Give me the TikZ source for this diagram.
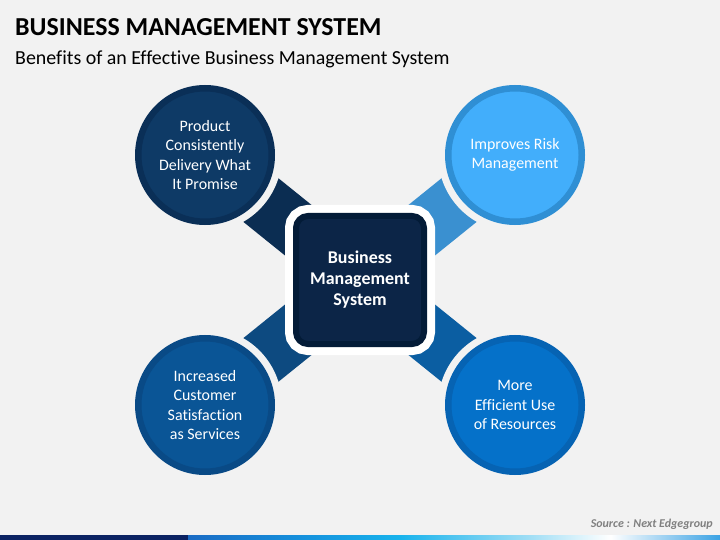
\documentclass[tikz,border=0pt]{standalone}
\usepackage{fontspec}
\setmainfont{Carlito}[Ligatures=NoCommon]
\usetikzlibrary{backgrounds}
\definecolor{bgc}{HTML}{F2F2F2}
\definecolor{tlfill}{HTML}{0E3A66}
\definecolor{tlring}{HTML}{0A2F57}
\definecolor{tlconn}{HTML}{0B2D52}
\definecolor{trfill}{HTML}{42AEFB}
\definecolor{trring}{HTML}{2F8FD4}
\definecolor{trconn}{HTML}{3A90D0}
\definecolor{blfill}{HTML}{0A5596}
\definecolor{blring}{HTML}{094A86}
\definecolor{blconn}{HTML}{0D4A80}
\definecolor{brfill}{HTML}{0571C9}
\definecolor{brring}{HTML}{0663B3}
\definecolor{brconn}{HTML}{0B5EA2}
\definecolor{sqfill}{HTML}{0C2547}
\definecolor{sqring}{HTML}{031B37}
\definecolor{srcgray}{HTML}{808080}
\definecolor{barnavy}{HTML}{0B2262}
\definecolor{barA}{HTML}{1A6BC4}
\definecolor{barB}{HTML}{1590DC}
\definecolor{barC}{HTML}{18B3EC}
\definecolor{barD}{HTML}{A0DEF5}
\definecolor{barE}{HTML}{3AA2E4}
\pgfdeclarehorizontalshading{barshade}{100bp}{color(0bp)=(barA);color(25bp)=(barA);color(35.5bp)=(barB);color(44.9bp)=(barC);color(57.1bp)=(barD);color(64.7bp)=(white);color(75bp)=(barE);color(100bp)=(barE)}
\tikzset{
  bubble/.style n args={2}{circle, minimum size=133.5bp, inner sep=0pt,
     fill=#1, draw=#2, line width=6.5bp,
     preaction={draw=bgc, line width=20.5bp},
     text=white, align=center, font=\fontsize{16}{19.4}\selectfont},
  hub/.style={rectangle, rounded corners=12bp, minimum size=128bp, inner sep=0pt,
     fill=sqfill, draw=sqring, line width=6bp,
     preaction={draw=white, line width=22bp},
     text=white, align=center, font=\bfseries\fontsize{18}{21}\selectfont},
  link/.style={line width=56bp, line cap=butt, draw=#1}
}
\begin{document}
\begin{tikzpicture}[x=1bp,y=-1bp]
\useasboundingbox (0,0) rectangle (720,540);
\node[hub] (sq) at (360,280) {Business\\Management\\System};
\node[bubble={tlfill}{tlring}] (tl) at (205,155) {Product\\Consistently\\Delivery What\\It Promise};
\node[bubble={trfill}{trring}] (tr) at (515,155) {Improves Risk\\Management};
\node[bubble={blfill}{blring}] (bl) at (205,405) {Increased\\Customer\\Satisfaction\\as Services};
\node[bubble={brfill}{brring}] (br) at (515,405) {More\\Efficient Use\\of Resources};
\begin{scope}[on background layer]
  \fill[bgc] (0,0) rectangle (720,540);
  \draw[link=tlconn] (tl.center) -- (sq.center);
  \draw[link=trconn] (tr.center) -- (sq.center);
  \draw[link=blconn] (bl.center) -- (sq.center);
  \draw[link=brconn] (br.center) -- (sq.center);
\end{scope}
\node[anchor=base west, inner sep=0pt, font=\bfseries\fontsize{26}{30}\selectfont] (title) at (15,36) {BUSINESS MANAGEMENT SYSTEM};
\node[anchor=base west, inner sep=0pt, font=\fontsize{20}{24}\selectfont] (sub) at (15,65) {Benefits of an Effective Business Management System};
\node[anchor=base east, inner sep=0pt, text=srcgray, font=\bfseries\itshape\fontsize{12}{14}\selectfont] (src) at (713,527) {Source : Next Edgegroup};
\fill[barnavy] (0,535) rectangle (188,540);
\shade[shading=barshade] (188,535) rectangle (720,540);
\end{tikzpicture}
\end{document}
